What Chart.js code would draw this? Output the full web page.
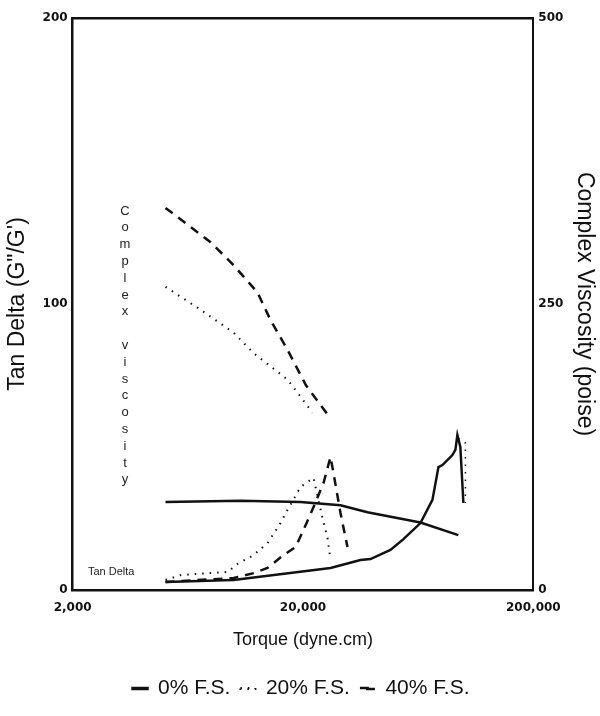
<!DOCTYPE html>
<html>
<head>
<meta charset="utf-8">
<script src="https://cdn.jsdelivr.net/npm/chart.js@4.4.1/dist/chart.umd.min.js"></script>
<style>
  html, body { margin: 0; padding: 0; background: #fff; }
  #wrap { width: 600px; height: 716px; position: relative; }
</style>
</head>
<body>
<div id="wrap"><canvas id="chart"></canvas></div>
<script>
// axis ticks
const xTicks = [2000, 20000, 200000];
const tanTicks = [0, 100, 200];
const viscTicks = [0, 250, 500];

// tan delta (left axis)
const tan0Torque = [5060, 9990, 26330, 35530, 39260, 47930, 54580, 64700, 72940, 77450, 80600, 89030, 91740, 93600, 96400, 99400];
const tan0 = [2.8, 3.5, 7.7, 10.5, 10.8, 14.0, 17.8, 23.4, 31.5, 43.0, 43.7, 47.2, 49.0, 54.2, 50.0, 30.4];

const tan20Torque = [5060, 5885, 7703, 9408, 10390, 12200, 14030, 15970, 17130, 19510, 20930, 22220, 24300, 25550, 26330];
const tan20 = [3.5, 5.2, 5.9, 6.3, 9.1, 12.2, 16.4, 23.4, 28.0, 36.0, 37.8, 39.2, 25.2, 18.2, 10.5];

const tan40Torque = [5060, 9990, 12200, 14030, 16460, 18560, 20100, 22220, 24550, 26330, 27130, 29090, 31200];
const tan40 = [2.8, 4.2, 5.9, 7.7, 12.2, 15.0, 21.0, 29.0, 37.4, 46.5, 40.9, 26.9, 15.0];

// short dotted trace beside the 0% peak
const tan20bTorque = [94500, 101400, 101400];
const tan20b = [53.0, 51.4, 30.4];

// complex viscosity (right axis)
const visc0Torque = [5060, 10710, 19510, 29090, 38100, 64700, 94500];
const visc0 = [77, 78, 77, 74, 68, 59, 48];

const visc20Torque = [5060, 7183, 9990, 12200, 17130, 19510, 21990];
const visc20 = [265, 245, 225, 207, 184, 169, 155];

const visc40Torque = [5060, 7940, 9990, 12700, 14450, 17130, 20600, 26330];
const visc40 = [334, 304, 284, 260, 236, 210, 179, 150];

const legendLabels = ['0% F.S.', '20% F.S.', '40% F.S.'];

function pts(xs, ys) {
    return xs.map((x, i) => ({ x: x, y: ys[i] }));
}

const SOLID = [];
const DOTTED = [1.5, 6];
const DASHED = [9, 7];

function line(label, xs, ys, dash, width, axis) {
    return {
        label: label,
        data: pts(xs, ys),
        borderColor: '#111',
        backgroundColor: 'transparent',
        borderWidth: width,
        borderDash: dash,
        pointRadius: 0,
        tension: 0,
        yAxisID: axis
    };
}

// free text drawn on the plot
const annotations = {
    id: 'annotations',
    afterDatasetsDraw(chart) {
        const ctx = chart.ctx;
        ctx.save();
        ctx.fillStyle = '#222';
        ctx.textAlign = 'center';
        ctx.textBaseline = 'middle';
        ctx.font = '13px "Liberation Sans", Arial, sans-serif';
        const word = 'Complex viscosity';
        let y = 211;
        for (const ch of word) {
            if (ch !== ' ') ctx.fillText(ch, 125, y);
            y += 16.8;
        }
        ctx.textAlign = 'left';
        ctx.font = '11px "Liberation Sans", Arial, sans-serif';
        ctx.fillText('Tan Delta', 88, 572);
        ctx.restore();
    }
};

const SANS = '"Liberation Sans", Arial, sans-serif';
const tickFont = { family: '"DejaVu Sans", sans-serif', size: 12, weight: 'bold' };
const sideTitleFont = { family: SANS, size: 23 };

new Chart(document.getElementById('chart'), {
    type: 'line',
    data: {
        datasets: [
            line(legendLabels[0], tan0Torque, tan0, SOLID, 2.5, 'y'),
            line(legendLabels[1], tan20Torque, tan20, DOTTED, 2, 'y'),
            line(legendLabels[2], tan40Torque, tan40, DASHED, 2.5, 'y'),
            line('', tan20bTorque, tan20b, DOTTED, 1.5, 'y'),
            line('', visc0Torque, visc0, SOLID, 2.5, 'yV'),
            line('', visc20Torque, visc20, DOTTED, 2, 'yV'),
            line('', visc40Torque, visc40, DASHED, 2.5, 'yV')
        ]
    },
    options: {
        responsive: true,
        maintainAspectRatio: false,
        animation: false,
        layout: { padding: { left: 2, right: 0, top: 18, bottom: 7 } },
        plugins: {
            legend: {
                position: 'bottom',
                labels: {
                    filter: item => item.text !== '',
                    color: '#111',
                    boxWidth: 15,
                    boxHeight: 1,
                    padding: 10,
                    font: { family: SANS, size: 21 }
                }
            },
            tooltip: { enabled: false }
        },
        scales: {
            x: {
                type: 'logarithmic',
                min: 2000,
                max: 200000,
                afterBuildTicks: axis => { axis.ticks = xTicks.map(v => ({ value: v })); },
                ticks: {
                    color: '#111',
                    font: tickFont,
                    maxRotation: 0,
                    padding: 11,
                    callback: v => v.toLocaleString('en-US')
                },
                grid: { display: false, drawTicks: false },
                border: { display: true, color: '#111', width: 2.5 },
                title: { display: true, text: 'Torque (dyne.cm)', color: '#111', font: { family: SANS, size: 18 }, padding: { top: 3, bottom: 17 } }
            },
            xTop: {
                type: 'logarithmic',
                position: 'top',
                min: 2000,
                max: 200000,
                ticks: { display: false },
                grid: { display: false, drawTicks: false },
                border: { display: true, color: '#111', width: 2.5 }
            },
            y: {
                position: 'left',
                min: 0,
                max: 200,
                afterBuildTicks: axis => { axis.ticks = tanTicks.map(v => ({ value: v })); },
                ticks: { color: '#111', font: tickFont, padding: 5 },
                grid: { display: false, drawTicks: false },
                border: { display: true, color: '#111', width: 2.5 },
                title: { display: true, text: 'Tan Delta (G"/G\')', color: '#111', font: sideTitleFont, padding: { top: 2, bottom: 6 } }
            },
            yV: {
                position: 'right',
                min: 0,
                max: 500,
                afterBuildTicks: axis => { axis.ticks = viscTicks.map(v => ({ value: v })); },
                ticks: { color: '#111', font: tickFont, padding: 5 },
                grid: { display: false, drawTicks: false },
                border: { display: true, color: '#111', width: 2 },
                title: { display: true, text: 'Complex Viscosity (poise)', color: '#111', font: sideTitleFont, padding: { top: 2, bottom: 2 } }
            }
        }
    },
    plugins: [annotations]
});
</script>
</body>
</html>
